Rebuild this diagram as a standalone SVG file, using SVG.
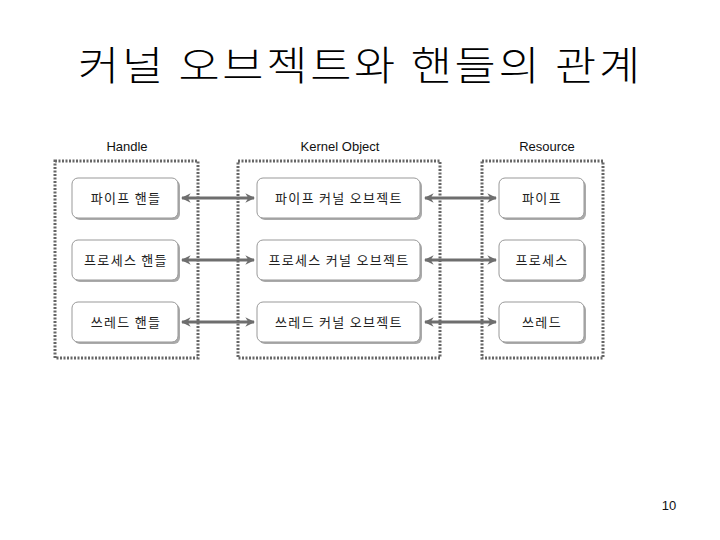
<svg xmlns="http://www.w3.org/2000/svg" width="720" height="540" viewBox="0 0 720 540">
<defs>
<style>
.title{font-family:"Noto Sans CJK KR","Noto Sans CJK SC",sans-serif;font-size:40px;fill:#000;font-weight:300}
.lab{font-family:"Liberation Sans","Noto Sans CJK KR",sans-serif;font-size:13px;fill:#111}
.nt{font-family:"Noto Sans CJK KR","Liberation Sans",sans-serif;font-size:13px;fill:#222;letter-spacing:1.3px}
.grp{fill:none;stroke:#666;stroke-width:3;stroke-dasharray:2 1.5}
.box{fill:#fff;stroke:#999;stroke-width:1}
.sh{fill:#aaa}
.con{stroke:#6e6e6e;stroke-width:3;fill:none;marker-start:url(#ah);marker-end:url(#ah)}
</style>
<marker id="ah" viewBox="0 0 10 10" refX="9" refY="5" markerWidth="3.2" markerHeight="3.2" orient="auto-start-reverse">
<path d="M0,0 L10,5 L0,10 L3,5 Z" fill="#6e6e6e"/>
</marker>
</defs>
<rect width="720" height="540" fill="#fff"/>
<text class="title" transform="scale(1.12,1)" x="69.6" y="80" textLength="502" lengthAdjust="spacing">커널 오브젝트와 핸들의 관계</text>
<text class="lab" x="127" y="151" text-anchor="middle">Handle</text>
<text class="lab" x="340" y="151" text-anchor="middle">Kernel Object</text>
<text class="lab" x="547" y="151" text-anchor="middle">Resource</text>
<g id="group-handle"><rect class="grp" x="55" y="161" width="143" height="197"/></g>
<g id="group-kernel"><rect class="grp" x="238" y="161" width="202" height="197"/></g>
<g id="group-resource"><rect class="grp" x="482" y="161" width="121" height="197"/></g>
<g id="connectors">
<line class="con" x1="182" y1="198" x2="254" y2="198"/>
<line class="con" x1="182" y1="260" x2="254" y2="260"/>
<line class="con" x1="182" y1="322" x2="254" y2="322"/>
<line class="con" x1="425" y1="198" x2="496" y2="198"/>
<line class="con" x1="425" y1="260" x2="496" y2="260"/>
<line class="con" x1="425" y1="322" x2="496" y2="322"/>
</g>
<g id="n-pipe-handle"><rect class="sh" x="74" y="180" width="106" height="40" rx="6"/><rect class="box" x="72" y="178" width="106" height="40" rx="6"/><text class="nt" x="126" y="203" text-anchor="middle">파이프 핸들</text></g>
<g id="n-proc-handle"><rect class="sh" x="74" y="242" width="106" height="40" rx="6"/><rect class="box" x="72" y="240" width="106" height="40" rx="6"/><text class="nt" x="126" y="265" text-anchor="middle">프로세스 핸들</text></g>
<g id="n-thread-handle"><rect class="sh" x="74" y="304" width="106" height="40" rx="6"/><rect class="box" x="72" y="302" width="106" height="40" rx="6"/><text class="nt" x="126" y="327" text-anchor="middle">쓰레드 핸들</text></g>
<g id="n-pipe-ko"><rect class="sh" x="259" y="180" width="163" height="40" rx="6"/><rect class="box" x="257" y="178" width="163" height="40" rx="6"/><text class="nt" x="339" y="203" text-anchor="middle">파이프 커널 오브젝트</text></g>
<g id="n-proc-ko"><rect class="sh" x="259" y="242" width="163" height="40" rx="6"/><rect class="box" x="257" y="240" width="163" height="40" rx="6"/><text class="nt" x="339" y="265" text-anchor="middle">프로세스 커널 오브젝트</text></g>
<g id="n-thread-ko"><rect class="sh" x="259" y="304" width="163" height="40" rx="6"/><rect class="box" x="257" y="302" width="163" height="40" rx="6"/><text class="nt" x="339" y="327" text-anchor="middle">쓰레드 커널 오브젝트</text></g>
<g id="n-pipe"><rect class="sh" x="501" y="180" width="85" height="40" rx="6"/><rect class="box" x="499" y="178" width="85" height="40" rx="6"/><text class="nt" x="542" y="203" text-anchor="middle">파이프</text></g>
<g id="n-proc"><rect class="sh" x="501" y="242" width="85" height="40" rx="6"/><rect class="box" x="499" y="240" width="85" height="40" rx="6"/><text class="nt" x="542" y="265" text-anchor="middle">프로세스</text></g>
<g id="n-thread"><rect class="sh" x="501" y="304" width="85" height="40" rx="6"/><rect class="box" x="499" y="302" width="85" height="40" rx="6"/><text class="nt" x="542" y="327" text-anchor="middle">쓰레드</text></g>
<text class="lab" x="669" y="510" text-anchor="middle" font-size="14">10</text>
</svg>
